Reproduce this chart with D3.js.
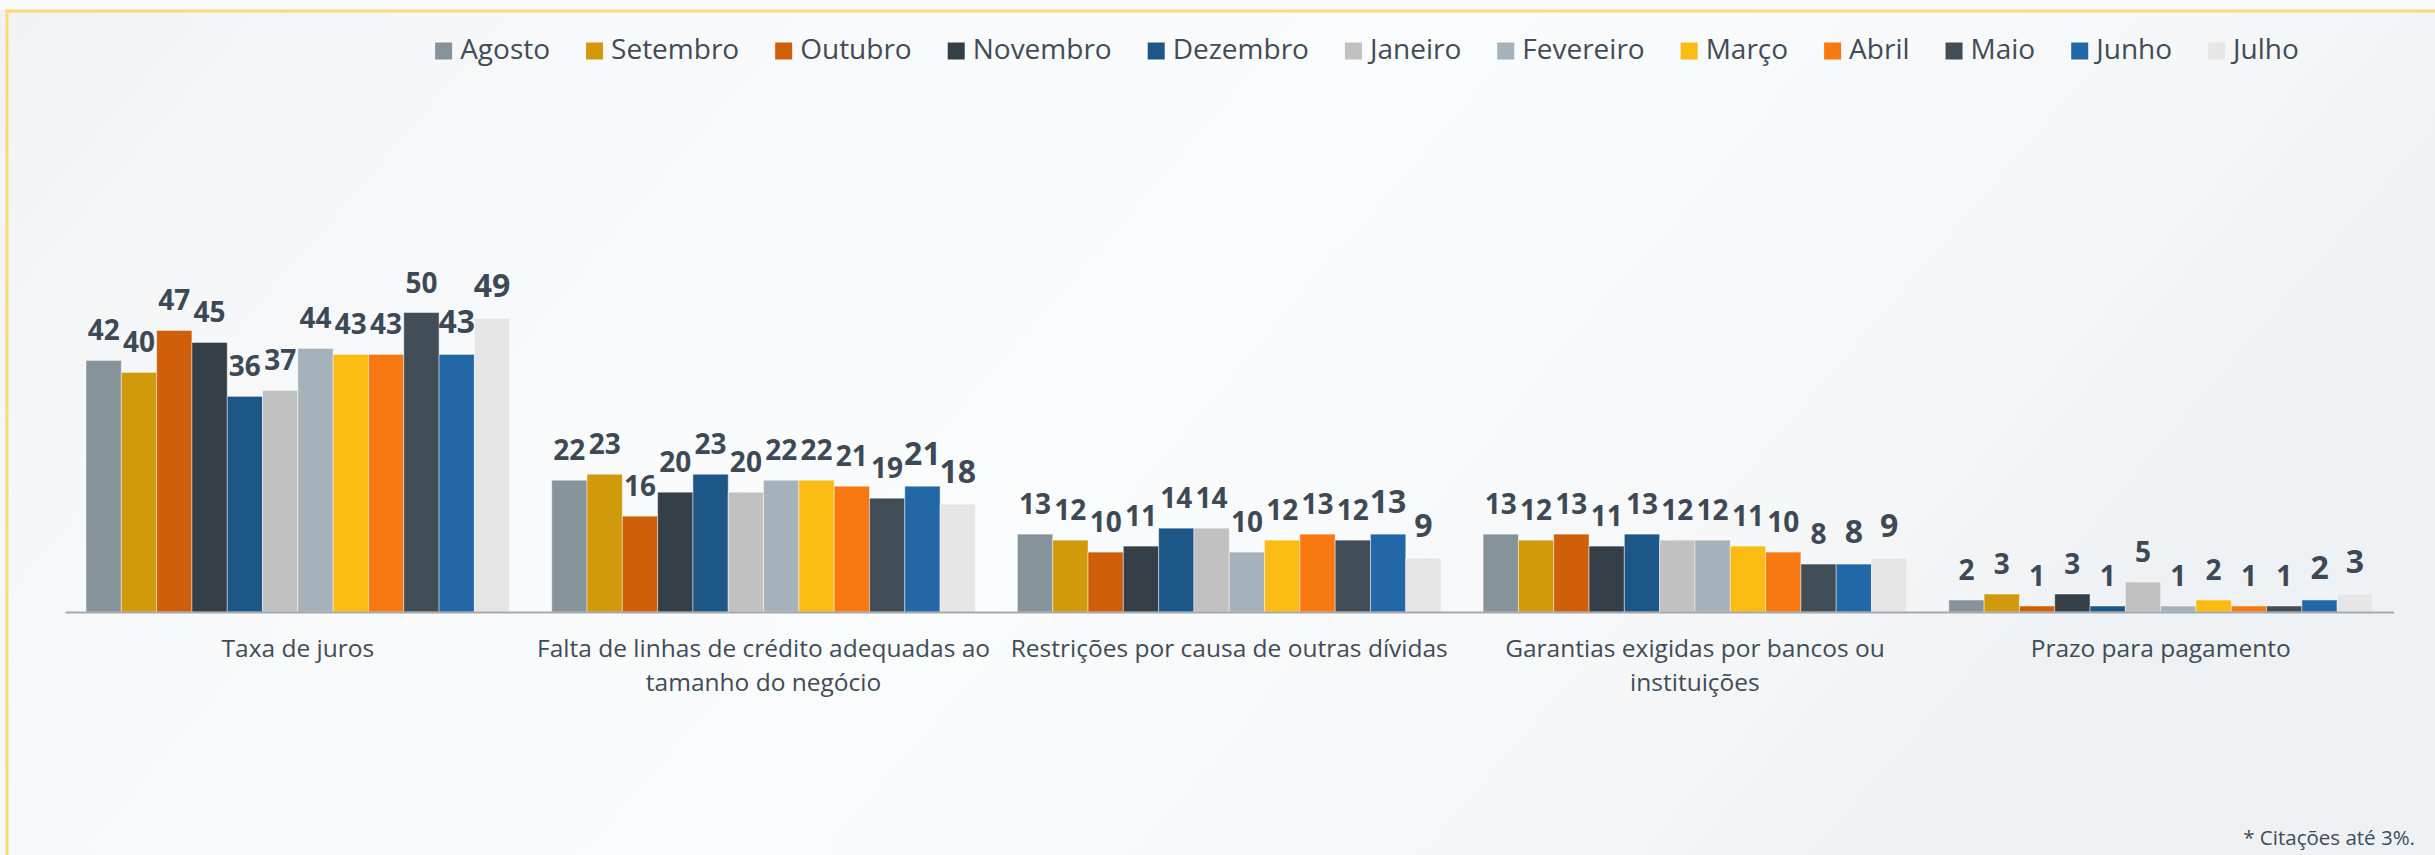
<!DOCTYPE html>
<html lang="pt-BR">
<head>
<meta charset="utf-8">
<title>Dificuldades de acesso ao crédito</title>
<script src="https://cdn.jsdelivr.net/npm/d3@7"></script>
<style>
  html, body { margin: 0; padding: 0; background: #f7f8f9; }
  svg { display: block; }
  text { font-family: "Open Sans", "Noto Sans", sans-serif; }
</style>
</head>
<body>
<svg id="chart" width="2435" height="855"></svg>
<script>
// Categorias (eixo X)
const categories = [
  "Taxa de juros",
  "Falta de linhas de crédito adequadas ao tamanho do negócio",
  "Restrições por causa de outras dívidas",
  "Garantias exigidas por bancos ou instituições",
  "Prazo para pagamento"
];

// Meses (séries)
const months = ["Agosto", "Setembro", "Outubro", "Novembro", "Dezembro", "Janeiro",
                "Fevereiro", "Março", "Abril", "Maio", "Junho", "Julho"];

// Percentual de citações por mês, uma lista por categoria
const taxaDeJuros    = [42, 40, 47, 45, 36, 37, 44, 43, 43, 50, 43, 49];
const faltaDeLinhas  = [22, 23, 16, 20, 23, 20, 22, 22, 21, 19, 21, 18];
const restricoes     = [13, 12, 10, 11, 14, 14, 10, 12, 13, 12, 13, 9];
const garantias      = [13, 12, 13, 11, 13, 12, 12, 11, 10, 8, 8, 9];
const prazoPagamento = [2, 3, 1, 3, 1, 5, 1, 2, 1, 1, 2, 3];

const seriesByCategory = [taxaDeJuros, faltaDeLinhas, restricoes, garantias, prazoPagamento];

const footnote = "* Citações até 3%.";

// Estilo
const monthColors = ["#87939b", "#d1990c", "#cf5f0a", "#353f47", "#1d5788", "#c1c1c1",
                     "#a6b2bb", "#fabb12", "#f87812", "#414d57", "#2268a6", "#e6e6e6"];
const labelSizes  = [28, 28, 28, 28, 28, 28, 28, 28, 28, 28, 32, 32];
const textColor = "#404c58";
const labelColor = "#3d4955";

const W = 2435, H = 855;
const svg = d3.select("#chart");

// Fundo e moldura
const defs = svg.append("defs");
const bg = defs.append("linearGradient").attr("id", "bg").attr("x1", "0").attr("x2", "1").attr("y1", "0").attr("y2", "0.3");
[["0%", "#f0f3f5"], ["25%", "#f8f9fb"], ["55%", "#fbfcfd"], ["80%", "#f7f8fa"], ["100%", "#eff2f4"]]
  .forEach(([o, c]) => bg.append("stop").attr("offset", o).attr("stop-color", c));
svg.append("rect").attr("width", W).attr("height", H).attr("fill", "url(#bg)");
svg.append("rect").attr("width", W).attr("height", 10).attr("fill", "#f9fafb");

svg.append("line").attr("x1", 5).attr("x2", W).attr("y1", 11).attr("y2", 11)
  .attr("stroke", "#ffd978").attr("stroke-width", 3);
svg.append("line").attr("x1", 7).attr("x2", 7).attr("y1", 10).attr("y2", H)
  .attr("stroke", "#ffd978").attr("stroke-width", 3);

// Escalas
const baseY = 612;
const x0 = d3.scaleBand().domain(categories).range([65, 2393.5]).paddingInner(0).paddingOuter(0);
const x1 = d3.scaleBand().domain(months).range([0, x0.bandwidth()]).paddingInner(0).paddingOuter(0.595);
const y = d3.scaleLinear().domain([0, 50]).range([baseY, 312.5]);

// Barras
const groups = svg.append("g").selectAll("g")
  .data(categories.map((c, i) => ({ category: c, values: seriesByCategory[i] })))
  .join("g")
  .attr("transform", d => `translate(${x0(d.category)},0)`);

groups.selectAll("rect")
  .data(d => d.values.map((v, j) => ({ month: months[j], value: v, idx: j })))
  .join("rect")
  .attr("x", d => x1(d.month))
  .attr("y", d => y(d.value))
  .attr("width", x1.bandwidth())
  .attr("height", d => y(0) - y(d.value))
  .attr("fill", d => monthColors[d.idx])
  .attr("stroke", "#ffffff")
  .attr("stroke-opacity", 0.45)
  .attr("stroke-width", 1);

// Rótulos de dados
groups.selectAll("text.value")
  .data(d => d.values.map((v, j) => ({ month: months[j], value: v, idx: j })))
  .join("text")
  .attr("class", "value")
  .attr("x", d => x1(d.month) + x1.bandwidth() / 2)
  .attr("y", d => y(d.value) - (labelSizes[d.idx] > 28 ? 21 : 20))
  .attr("text-anchor", "middle")
  .attr("font-weight", 700)
  .attr("font-size", d => labelSizes[d.idx])
  .attr("fill", labelColor)
  .text(d => d.value);

// Eixo X
const xAxis = svg.append("g")
  .attr("transform", `translate(0,${baseY})`)
  .call(d3.axisBottom(x0).tickSize(0).tickPadding(45));
xAxis.select(".domain").attr("stroke", "#a5a9ad").attr("stroke-width", 2);
xAxis.selectAll(".tick text")
  .attr("font-size", 24.5)
  .attr("fill", textColor)
  .attr("font-family", "'Open Sans', 'Noto Sans', sans-serif")
  .attr("dy", 0)
  .each(function (d) {
    const t = d3.select(this);
    const words = d.split(" ");
    const maxW = x0.bandwidth();
    t.text(null);
    let line = [];
    let tspan = t.append("tspan").attr("x", 0).attr("dy", 0);
    words.forEach(w => {
      line.push(w);
      tspan.text(line.join(" "));
      if (tspan.node().getComputedTextLength() > maxW && line.length > 1) {
        line.pop();
        tspan.text(line.join(" "));
        line = [w];
        tspan = t.append("tspan").attr("x", 0).attr("dy", 34).text(w);
      }
    });
  });

// Legenda
const legend = svg.append("g");
const items = legend.selectAll("g").data(months).join("g");
items.append("rect").attr("width", 17).attr("height", 17).attr("y", 42.5)
  .attr("fill", (d, i) => monthColors[i]);
items.append("text").attr("x", 25).attr("y", 59)
  .attr("font-size", 28).attr("fill", textColor).text(d => d);
let cursor = 0;
items.each(function () {
  const g = d3.select(this);
  g.attr("transform", `translate(${cursor},0)`);
  cursor += 25 + g.select("text").node().getComputedTextLength() + 36;
});
const legendWidth = cursor - 36;
legend.attr("transform", `translate(${1367 - legendWidth / 2},0)`);

// Nota
svg.append("text").attr("x", 2415).attr("y", 845).attr("text-anchor", "end")
  .attr("font-size", 20.5).attr("fill", textColor).text(footnote);
</script>
</body>
</html>
